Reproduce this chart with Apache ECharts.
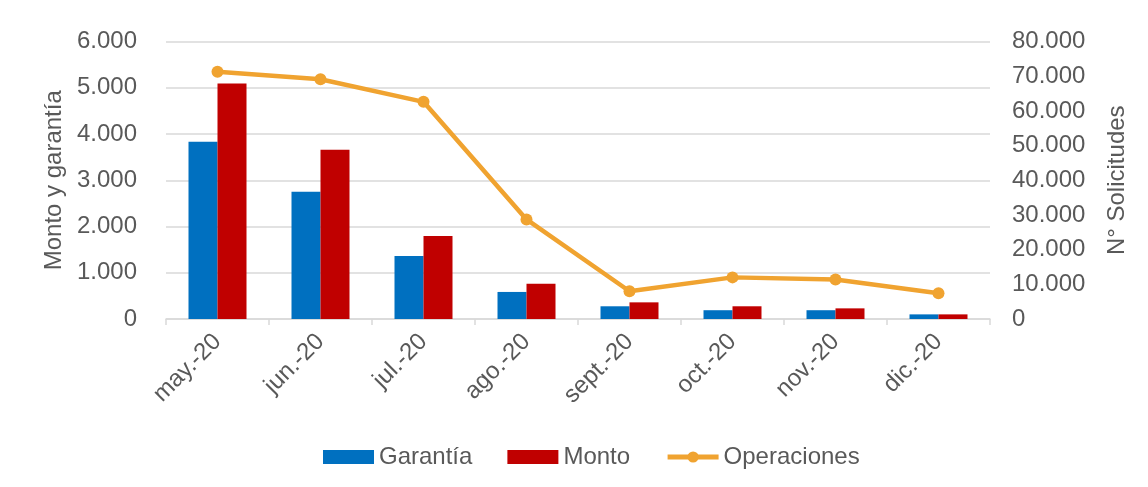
<!DOCTYPE html>
<html><head><meta charset="utf-8">
<script src="https://cdn.jsdelivr.net/npm/echarts@6/dist/echarts.min.js"></script>
<style>html,body{margin:0;padding:0;background:#fff}#c{width:1148px;height:487px}</style>
</head><body><div id="c"></div>
<script>
const categories = ['may.-20','jun.-20','jul.-20','ago.-20','sept.-20','oct.-20','nov.-20','dic.-20'];
const garantia = [3830, 2750, 1360, 585, 275, 190, 190, 100];
const monto = [5090, 3660, 1795, 760, 360, 275, 230, 100];
const operaciones = [71300, 69100, 62600, 28700, 8000, 12000, 11400, 7400];

function fmt(v){ return String(Math.round(v)).replace(/\B(?=(\d{3})+(?!\d))/g, '.'); }
const FONT = 'Liberation Sans, Arial, sans-serif';
const TXT = '#595959';
const FS = 24;
const chart = echarts.init(document.getElementById('c'));
chart.setOption({
  animation: false,
  textStyle: {fontFamily: FONT},
  grid: {left: 166, right: 158, top: 41.5, bottom: 168},
  legend: {
    left: 318, top: 440, itemWidth: 51, itemHeight: 14, itemGap: 35,
    textStyle: {color: TXT, fontSize: FS, fontFamily: FONT},
    data: [{name:'Garantía', icon:'rect'}, {name:'Monto', icon:'rect'},
           {name:'Operaciones', lineStyle: {width: 5}}]
  },
  xAxis: {
    type: 'category', data: categories,
    axisLine: {lineStyle: {color: '#D9D9D9', width: 1.5}},
    axisTick: {show: true, length: 6, lineStyle: {color: '#D9D9D9', width: 1.5}},
    axisLabel: {rotate: 45, color: TXT, fontSize: FS, margin: 19, fontFamily: FONT}
  },
  yAxis: [{
    type: 'value', min: 0, max: 6000, interval: 1000,
    name: 'Monto y garantía', nameLocation: 'middle', nameRotate: 90, nameGap: 91,
    nameTextStyle: {color: TXT, fontSize: FS, fontFamily: FONT},
    axisLine: {show: false}, axisTick: {show: false},
    axisLabel: {color: TXT, fontSize: FS, margin: 29, formatter: fmt, fontFamily: FONT},
    splitLine: {lineStyle: {color: '#D9D9D9', width: 1.5}}
  }, {
    type: 'value', min: 0, max: 80000, interval: 10000,
    name: 'N° Solicitudes', nameLocation: 'middle', nameRotate: 90, nameGap: 115,
    nameTextStyle: {color: TXT, fontSize: FS, fontFamily: FONT},
    axisLine: {show: false}, axisTick: {show: false},
    axisLabel: {color: TXT, fontSize: FS, margin: 22, formatter: fmt, fontFamily: FONT},
    splitLine: {show: false}
  }],
  series: [{
    name: 'Garantía', type: 'bar', data: garantia, barWidth: 29, barGap: '0%',
    itemStyle: {color: '#0070C0'}
  }, {
    name: 'Monto', type: 'bar', data: monto, barWidth: 29, barGap: '0%',
    itemStyle: {color: '#C00000'}
  }, {
    name: 'Operaciones', type: 'line', yAxisIndex: 1, data: operaciones,
    symbol: 'circle', symbolSize: 12,
    lineStyle: {color: '#F0A330', width: 4.5},
    itemStyle: {color: '#F0A330'}
  }]
});
</script></body></html>
